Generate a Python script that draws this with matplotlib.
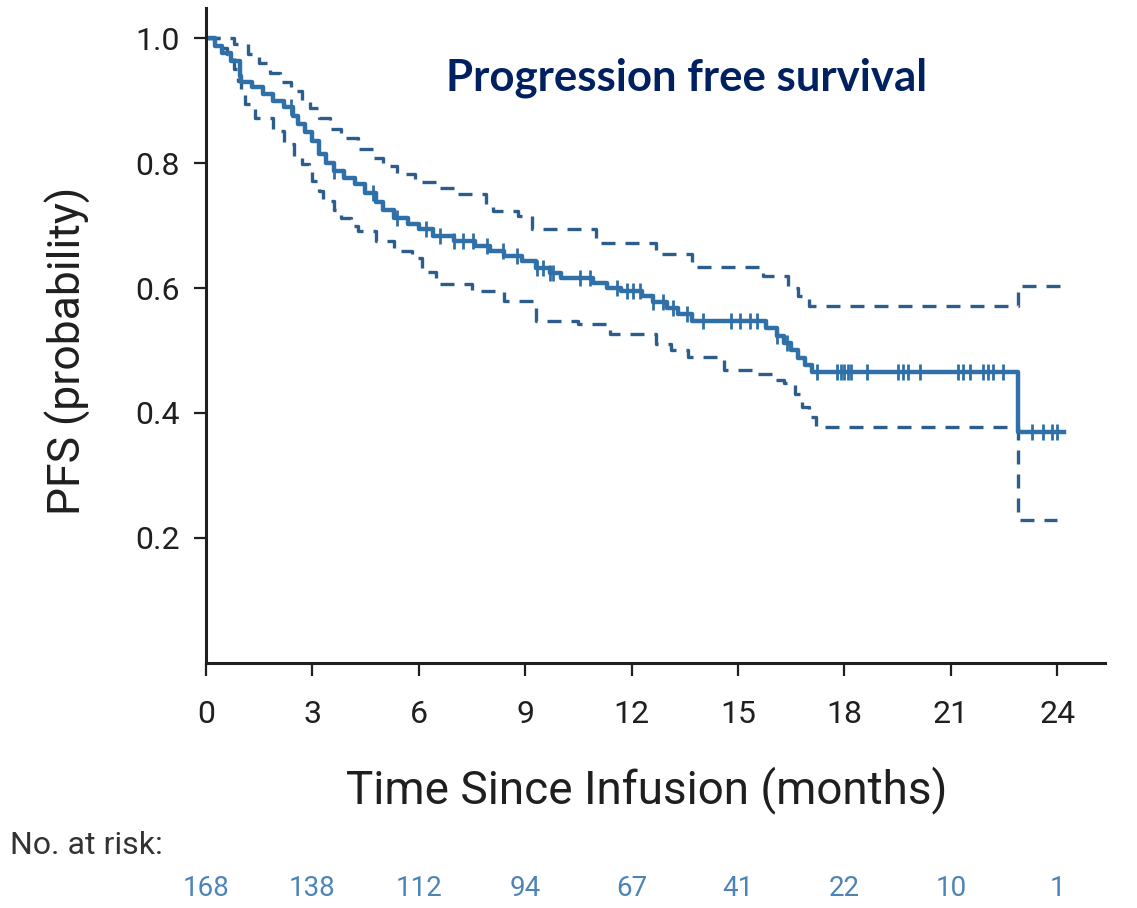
import numpy as np
import matplotlib
matplotlib.use("Agg")
import matplotlib.pyplot as plt
from matplotlib.transforms import blended_transform_factory

# Kaplan-Meier estimate of progression-free survival (step times in months)
pfs_t = [0, 0.25, 0.45, 0.7, 0.95, 1.0, 1.3, 1.6, 1.9, 2.2, 2.45, 2.6, 2.8, 3.0,
         3.2, 3.4, 3.6, 3.9, 4.2, 4.5, 4.8, 5.0, 5.3, 5.7, 6.0, 6.4, 7.0, 7.6,
         8.0, 8.4, 8.9, 9.3, 9.7, 10.0, 10.9, 11.3, 11.7, 12.3, 12.6, 13.0,
         13.3, 13.7, 15.8, 16.1, 16.3, 16.5, 16.7, 16.9, 17.1, 22.9, 24.2]
pfs_s = [1.0, 0.988, 0.976, 0.964, 0.94, 0.93, 0.922, 0.91, 0.9, 0.89, 0.876,
         0.862, 0.85, 0.835, 0.815, 0.8, 0.787, 0.776, 0.766, 0.752, 0.738,
         0.725, 0.712, 0.703, 0.694, 0.684, 0.676, 0.668, 0.659, 0.652, 0.643,
         0.632, 0.624, 0.616, 0.608, 0.6, 0.596, 0.588, 0.578, 0.568, 0.558,
         0.548, 0.536, 0.524, 0.512, 0.5, 0.488, 0.476, 0.465, 0.37, 0.37]

# Upper 95% confidence bound
upper_t = [0, 0.8, 1.2, 1.5, 1.8, 2.1, 2.4, 2.7, 2.95, 3.2, 3.5, 3.8, 4.3, 4.7,
           5.0, 5.4, 5.9, 6.5, 7.0, 7.9, 8.1, 8.8, 9.2, 11.0, 12.7, 13.7, 15.7,
           16.4, 16.7, 17.0, 22.9, 24.1]
upper_s = [1.0, 0.99, 0.975, 0.96, 0.945, 0.93, 0.915, 0.9, 0.888, 0.872, 0.855,
           0.84, 0.822, 0.808, 0.795, 0.782, 0.77, 0.76, 0.75, 0.735, 0.723,
           0.716, 0.695, 0.672, 0.655, 0.633, 0.62, 0.6, 0.588, 0.572, 0.604,
           0.604]

# Lower 95% confidence bound
lower_t = [0, 0.4, 0.6, 0.8, 0.9, 1.0, 1.1, 1.4, 1.9, 2.2, 2.5, 2.7, 2.9, 3.0,
           3.2, 3.3, 3.6, 3.8, 4.1, 4.3, 4.8, 5.3, 5.8, 6.1, 6.5, 7.5, 8.4, 9.3,
           10.5, 11.4, 12.7, 13.1, 13.6, 14.6, 15.5, 16.0, 16.3, 16.6, 16.8,
           17.0, 17.2, 22.9, 24.0]
lower_s = [1.0, 0.985, 0.974, 0.95, 0.931, 0.91, 0.894, 0.872, 0.851, 0.83,
           0.81, 0.798, 0.785, 0.771, 0.755, 0.739, 0.725, 0.712, 0.7, 0.692,
           0.675, 0.66, 0.648, 0.625, 0.607, 0.596, 0.58, 0.548, 0.543, 0.527,
           0.511, 0.5, 0.489, 0.468, 0.463, 0.452, 0.448, 0.431, 0.41, 0.394,
           0.378, 0.229, 0.229]

# Censored observations (months)
censor_t = [2.4, 3.6, 4.7, 5.4, 6.2, 6.6, 7.0, 7.25, 7.53, 7.93, 8.38, 8.77,
            9.34, 9.5, 9.7, 9.79, 10.55, 10.83, 11.6, 11.88, 12.05, 12.24,
            12.6, 12.9, 13.17, 13.57, 14.02, 14.8, 15.07, 15.35, 15.55, 16.1,
            16.39, 17.24, 17.8, 17.9, 18.0, 18.1, 18.2, 18.65, 19.5, 19.65,
            19.8, 20.14, 21.2, 21.35, 21.55, 21.9, 22.06, 22.2, 22.48, 23.3,
            23.6, 23.86, 24.0]

x_ticks = [0, 3, 6, 9, 12, 15, 18, 21, 24]
y_ticks = [0.2, 0.4, 0.6, 0.8, 1.0]
at_risk = [168, 138, 112, 94, 67, 41, 22, 10, 1]

NARROW = ["Liberation Sans Narrow", "Roboto", "DejaVu Sans"]
LINE = "#3070a8"
CI = "#2c5d8c"
INK = "#1f1f1f"

fig = plt.figure(figsize=(11.37, 9.08), dpi=100)
ax = fig.add_axes([0.181, 0.270, 0.791, 0.721])

ax.step(upper_t, upper_s, where="post", color=CI, lw=2.4,
        dashes=(4.2, 3.0))
ax.step(lower_t, lower_s, where="post", color=CI, lw=2.4,
        dashes=(4.2, 3.0))
ax.step(pfs_t, pfs_s, where="post", color=LINE, lw=3.2)

pt = np.asarray(pfs_t)
ps = np.asarray(pfs_s)
idx = np.searchsorted(pt, censor_t, side="right") - 1
ax.plot(censor_t, ps[idx], ls="none", marker="|", ms=11, mew=2.0,
        color=LINE)

ax.set_xlim(0, 25.35)
ax.set_ylim(0, 1.048)
ax.set_xticks(x_ticks)
ax.set_xticklabels([str(v) for v in x_ticks])
ax.set_yticks(y_ticks)
ax.set_yticklabels([f"{v:.1f}" for v in y_ticks])

for side in ("top", "right"):
    ax.spines[side].set_visible(False)
for side in ("left", "bottom"):
    ax.spines[side].set_linewidth(2.2)
    ax.spines[side].set_color(INK)

ax.tick_params(axis="both", direction="out", length=9, width=1.6,
               color=INK, labelcolor=INK)
ax.tick_params(axis="y", pad=10)
ax.tick_params(axis="x", pad=18)
for lab in ax.get_xticklabels() + ax.get_yticklabels():
    lab.set_fontfamily(NARROW)
    lab.set_fontsize(23)

fig.text(0.060, 0.614, "PFS (probability)", rotation=90, ha="center",
         va="center", fontsize=32, family=NARROW, color=INK)
fig.text(0.569, 0.130, "Time Since Infusion (months)", ha="center",
         va="center", fontsize=33, family=NARROW, color=INK)
fig.text(0.604, 0.914, "Progression free survival", ha="center",
         va="center", fontsize=31.5, fontweight="bold",
         family=["Lato", "DejaVu Sans"], color="#002060")

fig.text(0.009, 0.069, "No. at risk:", ha="left", va="center", fontsize=23,
         family=NARROW, color="#333333")
trans = blended_transform_factory(ax.transData, fig.transFigure)
for x, n in zip(x_ticks, at_risk):
    ax.text(x, 0.022, str(n), transform=trans, ha="center", va="center",
            fontsize=20, family=NARROW, color="#4d84b8")

fig.savefig("out.png", dpi=100)
